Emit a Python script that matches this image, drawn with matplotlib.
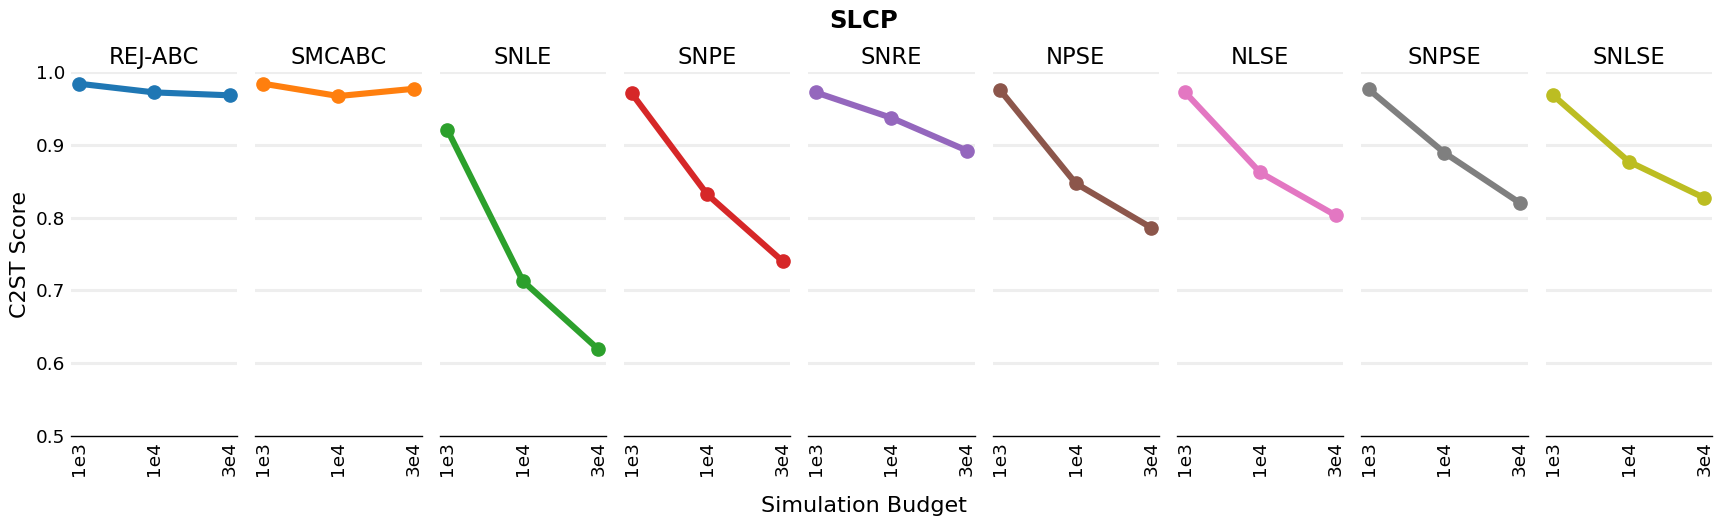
import matplotlib
matplotlib.use("Agg")
import matplotlib.pyplot as plt

# --- Dados ---
metodos = ["REJ-ABC", "SMCABC", "SNLE", "SNPE", "SNRE", "NPSE", "NLSE", "SNPSE", "SNLSE"]
orcamentos = ["1e3", "1e4", "3e4"]

rej_abc = [0.984, 0.972, 0.968]
smcabc = [0.984, 0.967, 0.977]
snle = [0.921, 0.713, 0.619]
snpe = [0.971, 0.832, 0.740]
snre = [0.972, 0.937, 0.892]
npse = [0.975, 0.847, 0.786]
nlse = [0.973, 0.862, 0.803]
snpse = [0.976, 0.889, 0.820]
snlse = [0.968, 0.877, 0.827]

valores = [rej_abc, smcabc, snle, snpe, snre, npse, nlse, snpse, snlse]
cores = plt.get_cmap("tab10").colors

# --- Figura ---
fig, axes = plt.subplots(1, len(metodos), figsize=(17.27, 5.2), dpi=100, sharey=True)
fig.subplots_adjust(left=0.0411, right=0.9913, top=0.8615, bottom=0.1615, wspace=0.108)

posicoes = list(range(len(orcamentos)))
for i, ax in enumerate(axes):
    ax.plot(posicoes, valores[i], color=cores[i], linewidth=4.4,
            marker="o", markersize=9.5, zorder=3)
    ax.set_title(metodos[i], fontsize=16.3, pad=6)
    ax.set_ylim(0.5, 1.0)
    ax.set_xlim(-0.1, 2.1)
    ax.set_yticks([0.5, 0.6, 0.7, 0.8, 0.9, 1.0])
    ax.set_xticks(posicoes)
    ax.set_xticklabels(orcamentos, rotation=90)
    ax.tick_params(axis="both", length=0, labelsize=13.3, pad=4)
    ax.grid(axis="y", color="#eeeeee", linewidth=2.2, zorder=0)
    for lado in ["top", "right", "left"]:
        ax.spines[lado].set_visible(False)
    ax.spines["bottom"].set_color("black")
    ax.spines["bottom"].set_linewidth(1.0)
    ax.set_axisbelow(True)
    ax.yaxis.get_gridlines()[0].set_visible(False)  # a linha 0.5 é o próprio eixo

axes[0].set_ylabel("C2ST Score", fontsize=16)
fig.suptitle("SLCP", fontsize=17.5, fontweight="bold", y=0.982)
fig.supxlabel("Simulation Budget", fontsize=16, y=0.008)

plt.savefig("out.png", dpi=100)
